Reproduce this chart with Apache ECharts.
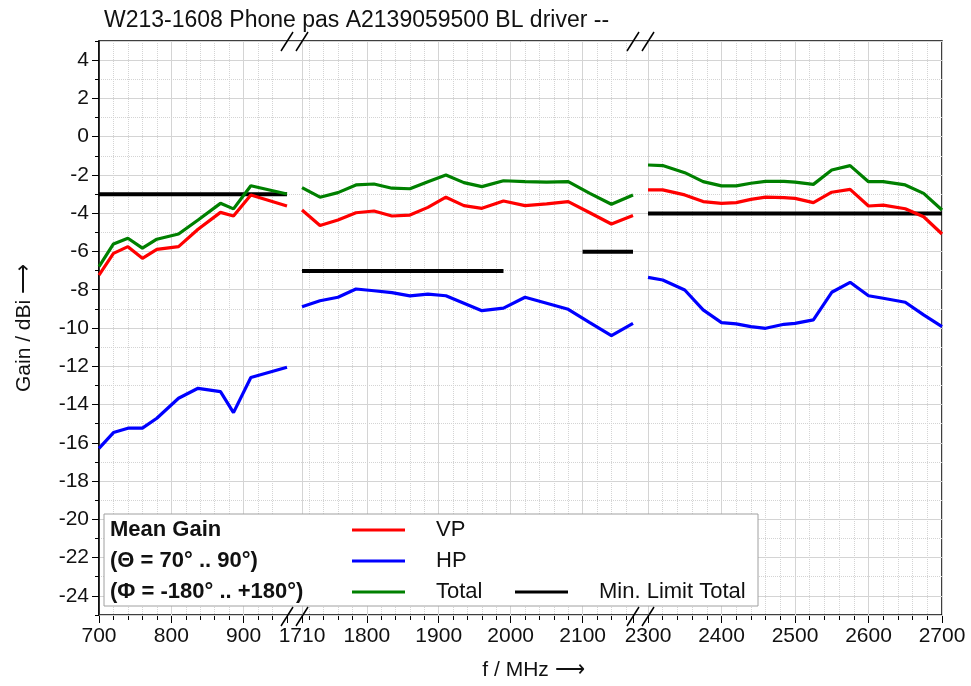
<!DOCTYPE html>
<html>
<head>
<meta charset="utf-8">
<title>Mean Gain</title>
<script src="https://cdn.jsdelivr.net/npm/echarts@6/dist/echarts.min.js"></script>
<style>
  html, body { margin: 0; padding: 0; background: #fff; }
  #chart { width: 971px; height: 686px; }
</style>
</head>
<body>
<div id="chart"></div>
<script>
// frequency points per band segment (MHz)
const freqLow = [700, 720, 740, 760, 780, 810, 837, 868, 886, 910, 960];
const freqMid = [1710, 1735, 1760, 1785, 1810, 1835, 1860, 1885, 1910, 1935, 1960, 1990, 2020, 2050, 2080, 2110, 2140, 2170];
const freqHigh = [2300, 2320, 2350, 2375, 2400, 2420, 2440, 2460, 2485, 2500, 2525, 2550, 2575, 2600, 2620, 2650, 2675, 2700];

// mean gain, dBi
const vpLow = [-7.21, -6.08, -5.73, -6.34, -5.87, -5.73, -4.82, -3.94, -4.13, -3.03, -3.61];
const hpLow = [-16.25, -15.43, -15.2, -15.2, -14.68, -13.64, -13.12, -13.29, -14.39, -12.56, -12.02];
const totalLow = [-6.77, -5.59, -5.29, -5.81, -5.34, -5.07, -4.34, -3.47, -3.76, -2.55, -2.98];

const vpMid = [-3.82, -4.63, -4.34, -3.96, -3.87, -4.13, -4.08, -3.68, -3.15, -3.59, -3.73, -3.35, -3.59, -3.5, -3.38, -3.96, -4.55, -4.11];
const hpMid = [-8.86, -8.55, -8.37, -7.94, -8.03, -8.13, -8.3, -8.21, -8.29, -8.68, -9.07, -8.94, -8.37, -8.68, -9.0, -9.69, -10.37, -9.73];
const totalMid = [-2.65, -3.15, -2.91, -2.51, -2.46, -2.68, -2.71, -2.34, -1.99, -2.39, -2.6, -2.29, -2.34, -2.36, -2.34, -2.95, -3.52, -3.03];

const vpHigh = [-2.77, -2.77, -3.03, -3.38, -3.47, -3.43, -3.26, -3.15, -3.17, -3.21, -3.43, -2.89, -2.74, -3.61, -3.56, -3.75, -4.17, -5.07];
const hpHigh = [-7.33, -7.47, -7.99, -9.03, -9.69, -9.76, -9.9, -9.99, -9.78, -9.73, -9.55, -8.11, -7.59, -8.29, -8.42, -8.63, -9.29, -9.9];
const totalHigh = [-1.47, -1.5, -1.87, -2.34, -2.56, -2.56, -2.42, -2.32, -2.32, -2.36, -2.48, -1.73, -1.5, -2.34, -2.34, -2.51, -2.95, -3.82];

// min. limit total (start/end frequency, level)
const limitLowF = [700, 960];
const limitLow = [-3, -3];
const limitMidAF = [1710, 1990];
const limitMidA = [-7, -7];
const limitMidBF = [2100, 2170];
const limitMidB = [-6, -6];
const limitHighF = [2300, 2700];
const limitHigh = [-4, -4];

// band segments of the broken x axis
const segMin = [700, 1710, 2300];
const segMax = [960, 2170, 2700];
const gainMin = -25;
const gainMax = 5;

const FONT = '"Liberation Sans", Arial, sans-serif';
const RED = '#ff0000', BLUE = '#0000ff', GREEN = '#008000', BLACK = '#000000';
const GRID_C = '#d4d4d4';

const plotTop = 41, plotH = 575;
const segLeft = [99, 302, 648];
const segWidth = [188, 331, 294];

function pts(f, v) {
    return f.map((x, i) => [x, v[i]]);
}

function line(name, color, width, seg, f, v) {
    return {
        name: name,
        type: 'line',
        xAxisIndex: seg + 1,
        yAxisIndex: seg + 2,
        data: pts(f, v),
        symbol: 'none',
        color: color,
        lineStyle: { color: color, width: width },
        silent: true
    };
}

const chart = echarts.init(document.getElementById('chart'));

const grids = [{ left: 99, top: plotTop, width: 843, height: plotH, show: true, borderColor: '#000', borderWidth: 1.5 }];
const xAxes = [{
    gridIndex: 0, type: 'value', min: 0, max: 1,
    axisLine: { show: false, onZero: false }, axisTick: { show: false }, axisLabel: { show: false }, splitLine: { show: false },
    name: 'f / MHz \u27F6', nameLocation: 'middle', nameGap: 45,
    nameTextStyle: { fontFamily: FONT, fontSize: 21, color: '#111', padding: [0, 0, 0, 26] }
}];
const yAxes = [{
    // major gain ticks, labels
    gridIndex: 0, type: 'value', min: gainMin, max: gainMax, splitNumber: 15,
    axisLine: { show: true, onZero: false, lineStyle: { color: '#000', width: 1.5 } },
    axisTick: { show: true, length: 7, lineStyle: { color: '#000' } },
    axisLabel: { showMinLabel: false, showMaxLabel: false, fontFamily: FONT, fontSize: 21, color: '#111', margin: 10 },
    splitLine: { show: true, lineStyle: { color: GRID_C, width: 1 } },
    name: 'Gain / dBi \u27F6', nameLocation: 'middle', nameRotate: 90, nameGap: 64,
    nameTextStyle: { fontFamily: FONT, fontSize: 21, color: '#111' }
}, {
    // minor gain ticks
    gridIndex: 0, type: 'value', position: 'left', min: gainMin, max: gainMax, interval: 1,
    axisLine: { show: false, onZero: false }, axisLabel: { show: false },
    axisTick: { show: true, length: 4, lineStyle: { color: '#000' } },
    splitLine: { show: true, lineStyle: { color: GRID_C, width: 1, type: 'dotted' } }
}];

for (let s = 0; s < 3; s++) {
    grids.push({ left: segLeft[s], top: plotTop, width: segWidth[s], height: plotH });
    const ax = {
        gridIndex: s + 1, type: 'value', position: 'bottom', min: segMin[s], max: segMax[s],
        axisLine: { show: false, onZero: false },
        axisTick: { show: true, length: 7, lineStyle: { color: '#000' } },
        minorTick: { show: true, splitNumber: 5, length: 4, lineStyle: { color: '#000' } },
        axisLabel: {
            fontFamily: FONT, fontSize: 21, color: '#111', margin: 10,
            showMaxLabel: s === 2,
            formatter: function (v) { return (v % 100 === 0 || v === segMin[s]) ? String(v) : ''; }
        },
        splitLine: { show: true, showMaxLine: s === 2, lineStyle: { color: GRID_C, width: 1 } },
        minorSplitLine: { show: true, lineStyle: { color: GRID_C, width: 1, type: 'dotted' } }
    };
    if (s === 1) {
        ax.splitNumber = 5;
    } else {
        ax.interval = 100;
    }
    xAxes.push(ax);
    yAxes.push({ gridIndex: s + 1, type: 'value', min: gainMin, max: gainMax, show: false, axisLine: { onZero: false }, splitLine: { show: false } });
}

const series = [
    line('Min. Limit Total', BLACK, 4, 0, limitLowF, limitLow),
    line('Min. Limit Total', BLACK, 4, 1, limitMidAF, limitMidA),
    line('Min. Limit Total', BLACK, 4, 1, limitMidBF, limitMidB),
    line('Min. Limit Total', BLACK, 4, 2, limitHighF, limitHigh),
    line('VP', RED, 3.2, 0, freqLow, vpLow),
    line('VP', RED, 3.2, 1, freqMid, vpMid),
    line('VP', RED, 3.2, 2, freqHigh, vpHigh),
    line('HP', BLUE, 3.2, 0, freqLow, hpLow),
    line('HP', BLUE, 3.2, 1, freqMid, hpMid),
    line('HP', BLUE, 3.2, 2, freqHigh, hpHigh),
    line('Total', GREEN, 3.2, 0, freqLow, totalLow),
    line('Total', GREEN, 3.2, 1, freqMid, totalMid),
    line('Total', GREEN, 3.2, 2, freqHigh, totalHigh)
];

// legend entries: name, left, row centre
function legendItem(name, left, cy) {
    return {
        data: [name], left: left, top: cy - 12, padding: 0, z: 60,
        icon: 'rect', itemWidth: 53, itemHeight: 3,
        selectedMode: false,
        textStyle: { fontFamily: FONT, fontSize: 22, color: '#111', lineHeight: 24, padding: [0, 0, 0, 26] }
    };
}

// axis break marks "//"
const breakX = [287, 302, 633, 648];
const breakMarks = [];
breakX.forEach(function (x) {
    [plotTop, plotTop + plotH].forEach(function (y) {
        breakMarks.push({
            type: 'line', z: 70,
            shape: { x1: x - 6, y1: y + 10, x2: x + 6, y2: y - 9 },
            style: { stroke: '#000', lineWidth: 1.5 }
        });
    });
});

const boldText = 'bold 22px ' + FONT;

chart.setOption({
    animation: false,
    title: {
        text: 'W213-1608 Phone pas A2139059500 BL driver --',
        left: 99, top: 4,
        textStyle: { fontFamily: FONT, fontSize: 23, fontWeight: 'normal', color: '#111' }
    },
    grid: grids,
    xAxis: xAxes,
    yAxis: yAxes,
    legend: [
        legendItem('VP', 352, 530),
        legendItem('HP', 352, 561),
        legendItem('Total', 352, 592),
        legendItem('Min. Limit Total', 515, 592)
    ],
    graphic: [
        { type: 'rect', z: 50, shape: { x: 104, y: 514, width: 654, height: 92 }, style: { fill: '#fff', stroke: '#a0a0a0', lineWidth: 1 } },
        { type: 'text', z: 55, x: 110, y: 530, style: { text: 'Mean Gain', font: boldText, fill: '#111', verticalAlign: 'middle' } },
        { type: 'text', z: 55, x: 110, y: 561, style: { text: '(\u0398 = 70\u00B0 .. 90\u00B0)', font: boldText, fill: '#111', verticalAlign: 'middle' } },
        { type: 'text', z: 55, x: 110, y: 592, style: { text: '(\u03A6 = -180\u00B0 .. +180\u00B0)', font: boldText, fill: '#111', verticalAlign: 'middle' } }
    ].concat(breakMarks),
    series: series
});
</script>
</body>
</html>
